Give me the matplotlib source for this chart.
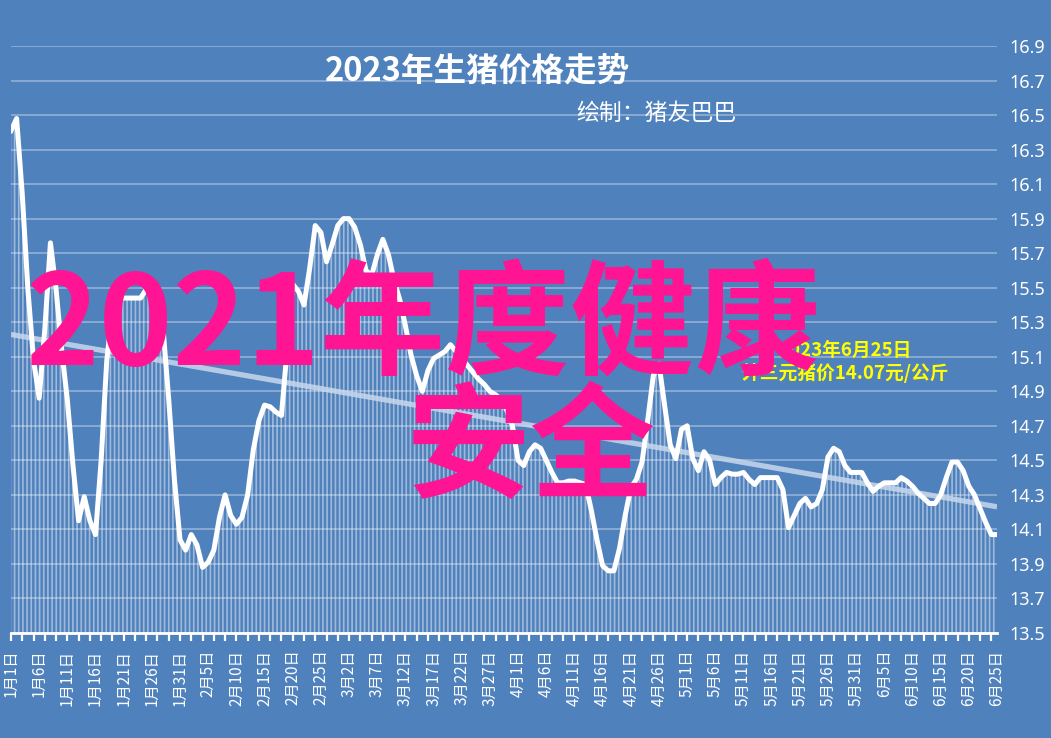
import datetime as dt
import numpy as np
import matplotlib.pyplot as plt

plt.rcParams['font.family'] = ['Noto Sans CJK SC', 'DejaVu Sans']
plt.rcParams['hatch.linewidth'] = 1.2

# === Data: daily hog price (元/公斤), 2023-01-01 .. 2023-06-25 ===
start_date = dt.date(2023, 1, 1)
price = [
    16.41, 16.48, 16.04, 15.49, 15.08, 14.86, 15.26, 15.76, 15.49, 15.14,
    14.85, 14.47, 14.15, 14.29, 14.15, 14.07, 14.50, 15.08, 15.37, 15.44,
    15.44, 15.44, 15.44, 15.44, 15.49, 15.49, 15.43, 15.26, 14.85, 14.39,
    14.04, 13.98, 14.07, 14.01, 13.88, 13.91, 13.98, 14.17, 14.30, 14.18,
    14.13, 14.17, 14.30, 14.56, 14.73, 14.82, 14.81, 14.78, 14.76, 15.14,
    15.52, 15.48, 15.40, 15.61, 15.86, 15.82, 15.65, 15.75, 15.86, 15.90,
    15.90, 15.85, 15.75, 15.60, 15.57, 15.69, 15.78, 15.69, 15.54, 15.43,
    15.28, 15.11, 14.99, 14.90, 15.02, 15.09, 15.11, 15.13, 15.17, 15.13,
    15.09, 15.05, 15.01, 14.97, 14.94, 14.90, 14.88, 14.85, 14.79, 14.70,
    14.50, 14.47, 14.55, 14.59, 14.57, 14.50, 14.43, 14.37, 14.37, 14.38,
    14.38, 14.37, 14.36, 14.21, 14.04, 13.89, 13.86, 13.86, 13.99, 14.18,
    14.34, 14.39, 14.49, 14.73, 14.99, 15.06, 14.82, 14.59, 14.51, 14.68,
    14.70, 14.51, 14.44, 14.55, 14.50, 14.36, 14.40, 14.43, 14.42, 14.42,
    14.43, 14.39, 14.36, 14.40, 14.40, 14.40, 14.40, 14.33, 14.11, 14.18,
    14.25, 14.28, 14.23, 14.25, 14.33, 14.52, 14.57, 14.55, 14.47, 14.43,
    14.43, 14.43, 14.37, 14.32, 14.35, 14.37, 14.37, 14.37, 14.40, 14.38,
    14.35, 14.31, 14.28, 14.25, 14.25, 14.30, 14.40, 14.49, 14.49, 14.44,
    14.35, 14.30, 14.22, 14.14, 14.07, 14.07,
]
y_ticks = [13.5, 13.7, 13.9, 14.1, 14.3, 14.5, 14.7, 14.9, 15.1, 15.3,
           15.5, 15.7, 15.9, 16.1, 16.3, 16.5, 16.7, 16.9]

title = "2023年生猪价格走势"
subtitle = "绘制：猪友巴巴"
note = "2023年6月25日\n外三元猪价14.07元/公斤"
watermark_1 = "2021年度健康"
watermark_2 = "安全"

days = np.arange(len(price))
dates = [start_date + dt.timedelta(days=int(d)) for d in days]
label_days = days[::5]
labels = [f"{dates[d].month}月{dates[d].day}日" for d in label_days]

# linear trend line
k, b = np.polyfit(days, price, 1)
trend = k * days + b

# === Plot ===
bg = '#4F81BD'
fig = plt.figure(figsize=(10.51, 7.38), dpi=100, facecolor=bg)
ax = fig.add_axes([11 / 1051, 105 / 738, 986 / 1051, 587 / 738])
ax.set_facecolor(bg)

ax.fill_between(days, price, 13.5, facecolor='none', edgecolor=(1, 1, 1, 0.45),
                linewidth=0, hatch='||||', zorder=1)
ax.plot(days, trend, color='#c8d8ec', lw=3.8, alpha=0.85, zorder=2,
        solid_capstyle='butt')
ax.plot(days, price, color='white', lw=3.6, zorder=3, solid_joinstyle='round')

ax.set_xlim(0, len(price) - 1)
ax.set_ylim(13.5, 16.9)
ax.set_yticks(y_ticks)
ax.set_yticklabels([f"{v:.1f}" for v in y_ticks], family='Noto Sans')
ax.yaxis.tick_right()
ax.tick_params(axis='y', length=0, pad=9, labelsize=13, labelcolor='white')
ax.grid(axis='y', color='white', alpha=0.35, lw=1.3, zorder=0)
ax.set_axisbelow(True)

ax.xaxis.remove_overlapping_locs = False
ax.set_xticks(days[::2])
ax.set_xticklabels([])
ax.set_xticks(label_days, minor=True)
ax.set_xticklabels(labels, minor=True, rotation=90, fontsize=11, color='white')
ax.tick_params(axis='x', which='major', length=6, width=1.6, color='white',
               direction='out')
ax.tick_params(axis='x', which='minor', length=0, pad=12)

for side in ['left', 'right', 'top']:
    ax.spines[side].set_visible(False)
ax.spines['bottom'].set_color('white')
ax.spines['bottom'].set_linewidth(2)

fig.text(478 / 1051, 1 - 72 / 738, title, color='white', fontsize=23.5,
         fontweight='bold', ha='center', va='center')
fig.text(656 / 1051, 1 - 113 / 738, subtitle, color='white', fontsize=16.5,
         ha='center', va='center')
fig.text(845 / 1051, 1 - 362 / 738, note, color='#FFFF00', fontsize=13.5,
         fontweight='bold', ha='center', va='center', linespacing=1.15)

fig.text(26 / 1051, 1 - 365 / 738, watermark_1, color='#FF1493', fontsize=90,
         fontweight='bold', ha='left', va='baseline')
fig.text(406 / 1051, 1 - 488 / 738, watermark_2, color='#FF1493', fontsize=90,
         fontweight='bold', ha='left', va='baseline')

fig.savefig('out.png', dpi=100, facecolor=bg)
